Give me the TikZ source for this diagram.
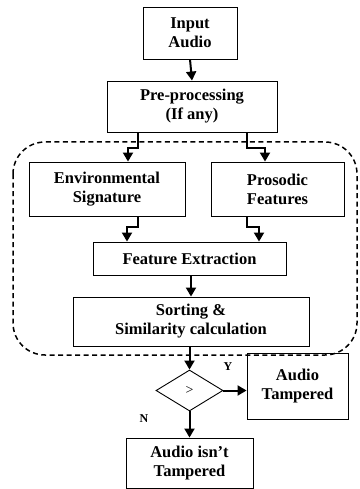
\documentclass[tikz,border=0pt]{standalone}
\usepackage{fontspec}
\setmainfont{Liberation Serif}
\usetikzlibrary{arrows.meta,shapes.geometric}
\begin{document}
\begin{tikzpicture}[x=1pt,y=-1pt,
  box/.style={draw,line width=0.9pt,align=center,inner sep=0pt,
    font=\fontsize{16.5}{19}\selectfont\bfseries},
  arr/.style={line width=2pt,-{Triangle[width=10pt,length=9pt]}},
  grp/.style={draw,line width=1.5pt,dash pattern=on 5pt off 3.5pt,rounded corners=32pt},
  lbl/.style={font=\fontsize{12}{14}\selectfont\bfseries,inner sep=0pt}]
\useasboundingbox (0,0) rectangle (359,489);
\draw[grp] (13,142) rectangle (357,355);
\node[box,minimum width=94pt,minimum height=52pt] (inp) at (190,33) {Input\\Audio};
\node[box,minimum width=170pt,minimum height=51pt] (pre) at (192,106.5) {Pre-processing\\(If any)};
\node[box,minimum width=156pt,minimum height=54pt] (env) at (107,189) {Environmental\\Signature};
\node[box,minimum width=133pt,minimum height=54pt] (pros) at (277.5,189) {Prosodic\\Features};
\node[box,minimum width=193pt,minimum height=33pt] (fe) at (189.5,258.5) {Feature Extraction};
\node[box,minimum width=236pt,minimum height=49pt] (sort) at (191,321.5) {Sorting \&\\Similarity calculation};
\node[draw,line width=0.9pt,diamond,aspect=1.63,minimum width=67pt,minimum height=41pt,inner sep=0pt,
  font=\fontsize{14}{16}\selectfont] (dia) at (189.5,390.5) {>};
\node[box,minimum width=101pt,minimum height=66pt] (tamp) at (297.5,386) {Audio\\Tampered};
\node[box,minimum width=127pt,minimum height=50pt] (nt) at (189.5,463) {Audio isn’t\\Tampered};
\node[lbl] (y) at (228,367) {Y};
\node[lbl] (n) at (144,419) {N};
\draw[arr] (inp.south) -- (pre.north);
\draw[arr] ([xshift=-54pt]pre.south) -- ++(0,16) -| ([xshift=21pt]env.north);
\draw[arr] ([xshift=55pt]pre.south) -- ++(0,16) -| ([xshift=-12.5pt]pros.north);
\draw[arr] ([xshift=31pt]env.south) -- ++(0,11) -| ([xshift=-62.5pt]fe.north);
\draw[arr] ([xshift=-30.5pt]pros.south) -- ++(0,11) -| ([xshift=69.5pt]fe.north);
\draw[arr] (fe.south -| sort.north) -- (sort.north);
\draw[arr] (sort.south -| dia.north) -- (dia.north);
\draw[arr] (dia.east) -- (tamp.west |- dia.east);
\draw[arr] (dia.south) -- (nt.north -| dia.south);
\end{tikzpicture}
\end{document}
